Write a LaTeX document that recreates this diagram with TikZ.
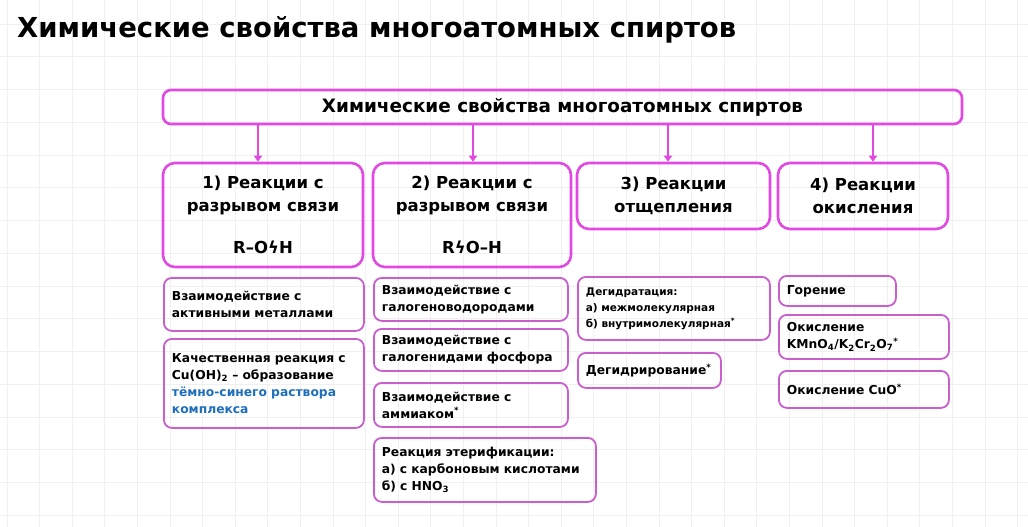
\documentclass[tikz,border=0pt]{standalone}
\usepackage{fontspec}
\setmainfont{DejaVu Sans}
\newfontfamily\symf{DejaVu Sans}
\usetikzlibrary{arrows.meta}
\definecolor{mag}{RGB}{226,72,226}
\definecolor{subc}{RGB}{200,95,205}
\definecolor{txtblue}{RGB}{30,110,190}
\definecolor{gridc}{RGB}{240,240,240}
\begin{document}
\begin{tikzpicture}[x=1pt,y=-1pt,
 titlestyle/.style={anchor=west, inner sep=0pt, font=\fontsize{27.5}{30}\selectfont\bfseries},
 mainbox/.style={draw=mag, line width=2.6pt, rounded corners=8pt, minimum width=799pt, minimum height=34pt, inner sep=0pt, font=\fontsize{18.4}{20}\selectfont\bfseries},
 headbox/.style={draw=mag, line width=2.6pt, rounded corners=12pt, align=center, inner sep=0pt, font=\fontsize{16.5}{23}\selectfont\bfseries},
 subbox/.style={draw=subc, line width=1.8pt, rounded corners=8pt, align=left, inner xsep=8pt, inner ysep=0pt, anchor=north west, font=\fontsize{12.3}{17}\selectfont\bfseries},
 smallbox/.style={subbox, font=\fontsize{10.5}{16}\selectfont\bfseries},
 arr/.style={draw=mag, line width=1.8pt, -{Triangle[width=8pt,length=6pt]}}
]
\useasboundingbox (0,0) rectangle (1028,527);
\fill[white] (0,0) rectangle (1028,527);
\foreach \i in {0,...,31} \draw[gridc, line width=1pt] ({7+32.6*\i},0) -- ({7+32.6*\i},527);
\foreach \j in {0,...,15} \draw[gridc, line width=1pt] (0,{24.2+32.75*\j}) -- (1028,{24.2+32.75*\j});

\node[titlestyle] (title) at (17,30) {Химические свойства многоатомных спиртов};

\node[mainbox] (main) at (562.5,107) {Химические свойства многоатомных спиртов};

\node[headbox, minimum width=200pt, minimum height=104pt] (h1) at (263,215) {1) Реакции с\\разрывом связи\\[19pt]R–O{\symf ϟ}H};
\node[headbox, minimum width=198pt, minimum height=104pt] (h2) at (472,215) {2) Реакции с\\разрывом связи\\[19pt]R{\symf ϟ}O–H};
\node[headbox, minimum width=193pt, minimum height=66pt] (h3) at (673.5,196) {3) Реакции\\отщепления};
\node[headbox, minimum width=170pt, minimum height=66pt] (h4) at (863,196) {4) Реакции\\окисления};

\coordinate (a1) at (258,124);
\coordinate (a2) at (473,124);
\coordinate (a3) at (668,124);
\coordinate (a4) at (873,124);
\draw[arr] (a1) -- (a1 |- h1.north);
\draw[arr] (a2) -- (a2 |- h2.north);
\draw[arr] (a3) -- (a3 |- h3.north);
\draw[arr] (a4) -- (a4 |- h4.north);

\node[subbox, text width=184pt, minimum height=53pt] (s11) at (163,277) {Взаимодействие с\\активными металлами};
\node[subbox, text width=184pt, minimum height=89pt] (s12) at (163,338) {Качественная реакция с\\Cu(OH)\textsubscript{2} – образование\\{\color{txtblue}тёмно-синего раствора}\\{\color{txtblue}комплекса}};

\node[subbox, text width=178pt, minimum height=43pt] (s21) at (373,277) {Взаимодействие с\\галогеноводородами};
\node[subbox, text width=178pt, minimum height=42pt] (s22) at (373,328) {Взаимодействие с\\галогенидами фосфора};
\node[subbox, text width=178pt, minimum height=44pt] (s23) at (373,382) {Взаимодействие с\\аммиаком\textsuperscript{*}};
\node[subbox, text width=206pt, minimum height=64pt] (s24) at (373,437) {Реакция этерификации:\\а) с карбоновым кислотами\\б) с HNO\textsubscript{3}};

\node[smallbox, text width=176pt, minimum height=63pt] (s31) at (577,276) {Дегидратация:\\а) межмолекулярная\\б) внутримолекулярная\textsuperscript{*}};
\node[subbox, text width=127pt, minimum height=35pt] (s32) at (577,352) {Дегидрирование\textsuperscript{*}};

\node[subbox, text width=101pt, minimum height=30pt] (s41) at (778,275) {Горение};
\node[subbox, text width=154pt, minimum height=44pt] (s42) at (778,314) {Окисление\\KMnO\textsubscript{4}/K\textsubscript{2}Cr\textsubscript{2}O\textsubscript{7}\textsuperscript{*}};
\node[subbox, text width=154pt, minimum height=37pt] (s43) at (778,370) {Окисление CuO\textsuperscript{*}};
\end{tikzpicture}
\end{document}
